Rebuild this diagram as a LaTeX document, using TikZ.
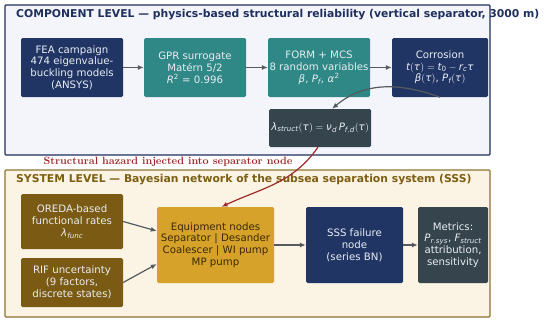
\documentclass[tikz,border=0pt]{standalone}
\usepackage{mathspec}
\setsansfont{DejaVu Sans}
\setmathsfont(Digits,Latin,Greek){DejaVu Sans}
\usetikzlibrary{arrows.meta}

% Colours
\definecolor{compnavy}{HTML}{213564}
\definecolor{compframe}{HTML}{1F2F5E}
\definecolor{compteal}{HTML}{2F8886}
\definecolor{compslate}{HTML}{35444D}
\definecolor{compback}{HTML}{F4F5FA}
\definecolor{sysback}{HTML}{FBF4E4}
\definecolor{sysframe}{HTML}{8C7330}
\definecolor{systitle}{HTML}{7D5E12}
\definecolor{sysbrown}{HTML}{7B5B13}
\definecolor{sysgold}{HTML}{D6A229}
\definecolor{goldtext}{HTML}{3A2A08}
\definecolor{hazardred}{HTML}{9E2A2B}
\definecolor{arrowgray}{HTML}{555A5F}
\definecolor{lighttext}{HTML}{E8EDF3}

\tikzset{
  box/.style={rounded corners=1.5pt, align=center, inner sep=1pt, text=lighttext,
    font=\sffamily\fontsize{10.2}{11.8}\selectfont},
  leveltitle/.style={anchor=west, inner sep=0pt, font=\sffamily\bfseries\fontsize{10.8}{12}\selectfont},
  flow/.style={-{Latex[length=6pt,width=5pt]}, draw=arrowgray, line width=1.2pt},
}

\begin{document}
\begin{tikzpicture}[x=1pt,y=1pt]
\useasboundingbox (0,0) rectangle (550,-324);

% Level frames
\draw[compframe, fill=compback, line width=1.3pt, rounded corners=1pt] (5,-5) rectangle (490,-155);
\draw[sysframe, fill=sysback, line width=1.3pt, rounded corners=1pt] (5,-170) rectangle (490,-317);

% Titles
\node[leveltitle, text=compframe] (comptitle) at (16,-15)
  {COMPONENT LEVEL — physics-based structural reliability (vertical separator, 3000 m)};
\node[leveltitle, text=systitle] (systitle) at (16,-180)
  {SYSTEM LEVEL — Bayesian network of the subsea separation system (SSS)};

% Component chain
\node[box, fill=compnavy, minimum width=102pt, minimum height=59pt] (fea) at (72,-67.5)
  {FEA campaign\\474 eigenvalue-\\buckling models\\(ANSYS)};
\node[box, fill=compteal, minimum width=102pt, minimum height=59pt] (gpr) at (195,-67.5)
  {GPR surrogate\\Matérn 5/2\\$R^2$ = 0.996};
\node[box, fill=compteal, minimum width=102pt, minimum height=59pt] (form) at (319,-67.5)
  {FORM + MCS\\8 random variables\\$\beta$, $P_f$, $\alpha^2$};
\node[box, fill=compnavy, minimum width=96pt, minimum height=59pt] (corr) at (440,-67.5)
  {Corrosion\\$t(\tau) = t_0 - r_c\tau$\\$\beta(\tau)$, $P_f(\tau)$};
\node[box, fill=compslate, minimum width=102pt, minimum height=38pt] (lam) at (320,-128)
  {$\lambda_{struct}(\tau) = \nu_d\, P_{f,d}(\tau)$};

\draw[flow] (fea) -- (gpr);
\draw[flow] (gpr) -- (form);
\draw[flow] (form) -- (corr);
\draw[flow] (corr.south) to[out=160,in=40] ([xshift=12pt]lam.north);

% Hazard link
\node[inner sep=0pt, text=hazardred, font=\rmfamily\bfseries\fontsize{10.6}{12}\selectfont] (hazard) at (168,-162)
  {Structural hazard injected into separator node};

% System chain
\node[box, fill=sysbrown, minimum width=102pt, minimum height=55pt] (oreda) at (72,-221.5)
  {OREDA-based\\functional rates\\$\lambda_{func}$};
\node[box, fill=sysbrown, minimum width=102pt, minimum height=49pt] (rif) at (72,-282.5)
  {RIF uncertainty\\(9 factors,\\discrete states)};
\node[box, fill=sysgold, text=goldtext, minimum width=117pt, minimum height=76pt] (equip) at (215.5,-245)
  {Equipment nodes\\Separator | Desander\\Coalescer | WI pump\\MP pump};
\node[box, fill=compnavy, minimum width=97pt, minimum height=76pt] (sss) at (354.5,-245)
  {SSS failure\\node\\(series BN)};
\node[box, fill=compslate, minimum width=70pt, minimum height=76pt] (metrics) at (453,-245)
  {Metrics:\\$P_{r,sys}$, $F_{struct}$\\attribution,\\sensitivity};

\draw[hazardred, -{Latex[length=6pt,width=5pt]}, line width=1.2pt]
  ([xshift=-2pt]lam.south) to[out=235,in=25] ([xshift=6pt]equip.north);
\draw[flow] (oreda.east) -- ([yshift=14pt]equip.west);
\draw[flow] (rif.east) -- ([yshift=-19pt]equip.west);
\draw[flow] (equip) -- (sss);
\draw[flow] (sss) -- (metrics);

\end{tikzpicture}
\end{document}
